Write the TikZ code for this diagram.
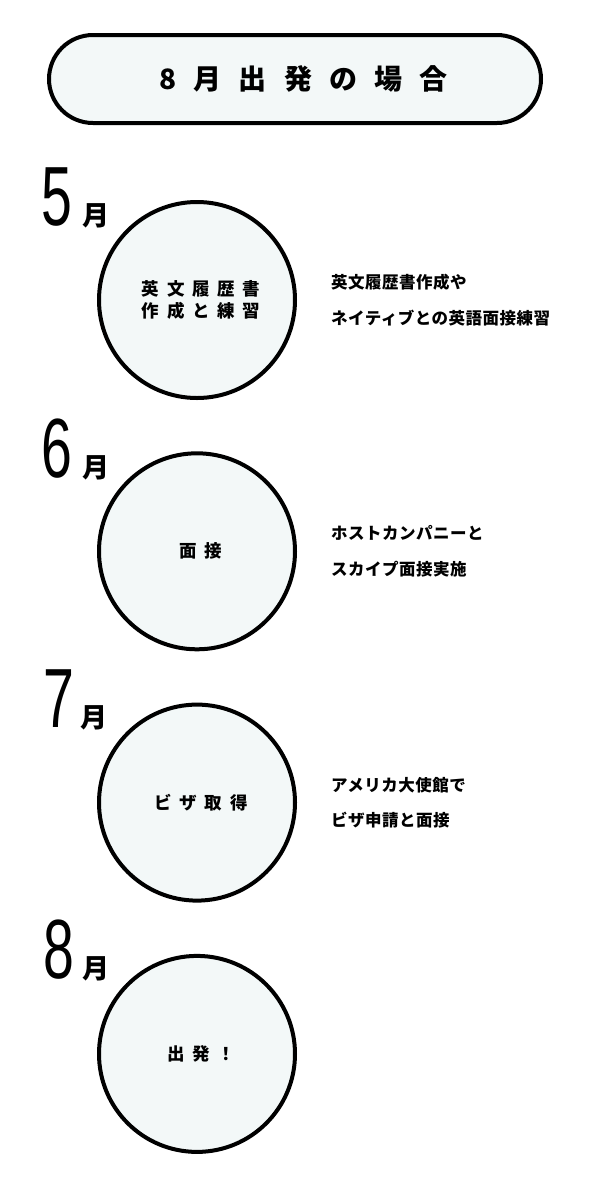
\documentclass[tikz,border=0pt]{standalone}
\usepackage{fontspec}
\usepackage{tikz}
\usetikzlibrary{positioning}
\newfontfamily\jp{Noto Sans CJK JP}
\newfontfamily\jpwide[LetterSpace=44]{Noto Sans CJK JP}
\newfontfamily\jptitle[LetterSpace=61]{Noto Sans CJK JP}
\newfontfamily\jpdesc[LetterSpace=3]{Noto Sans CJK JP}
\newfontfamily\numfont[FakeStretch=0.66]{Liberation Sans}
\definecolor{paleblue}{RGB}{243,248,248}
\tikzstyle{titlebox} = [rectangle, rounded corners=44pt, minimum width=492pt, minimum height=88pt, line width=4pt, draw=black, fill=paleblue, inner sep=0pt, font=\jptitle\bfseries\fontsize{28}{32}\selectfont]
\tikzstyle{stage} = [circle, minimum size=196pt, line width=4pt, draw=black, fill=paleblue, inner sep=0pt, align=center, font=\jpwide\bfseries\fontsize{17.5}{21.5}\selectfont]
\tikzstyle{digit} = [inner sep=0pt, font=\numfont\fontsize{84}{88}\selectfont]
\tikzstyle{month} = [inner sep=0pt, font=\jp\bfseries\fontsize{27}{30}\selectfont]
\tikzstyle{desc} = [inner sep=0pt, align=left, font=\jpdesc\bfseries\fontsize{16.5}{35.5}\selectfont]

\begin{document}
\begin{tikzpicture}[x=1pt, y=1pt, node distance=251.3pt]
	\useasboundingbox (0,0) rectangle (600,-1200);
	\node(title) [titlebox] at (295,-79) {\hspace*{17pt}8月出発の場合};

	\node(may) [stage] at (197,-300) {\hspace*{8pt}英文履歴書\\\hspace*{8pt}作成と練習};
	\node(june) [stage, below of=may] {\hspace*{8pt}面接};
	\node(july) [stage, below of=june] {\hspace*{8pt}ビザ取得};
	\node(aug) [stage, below of=july] {\hspace*{8pt}出発！};

	\node(d5) [digit, anchor=base west] at (41,-225) {5};
	\node(d6) [digit, anchor=base west] at (41,-477) {6};
	\node(d7) [digit, anchor=base west] at (43,-727) {7};
	\node(d8) [digit, anchor=base west] at (43,-978) {8};
	\node(m5) [month, base right=10pt of d5] {月};
	\node(m6) [month, base right=10pt of d6] {月};
	\node(m7) [month, base right=6pt of d7] {月};
	\node(m8) [month, base right=8pt of d8] {月};

	\node(tmay) [desc, right=34pt of may] {英文履歴書作成や\\ネイティブとの英語面接練習};
	\node(tjune) [desc, right=34pt of june] {ホストカンパニーと\\スカイプ面接実施};
	\node(tjuly) [desc, right=34pt of july] {アメリカ大使館で\\ビザ申請と面接};
\end{tikzpicture}
\end{document}
